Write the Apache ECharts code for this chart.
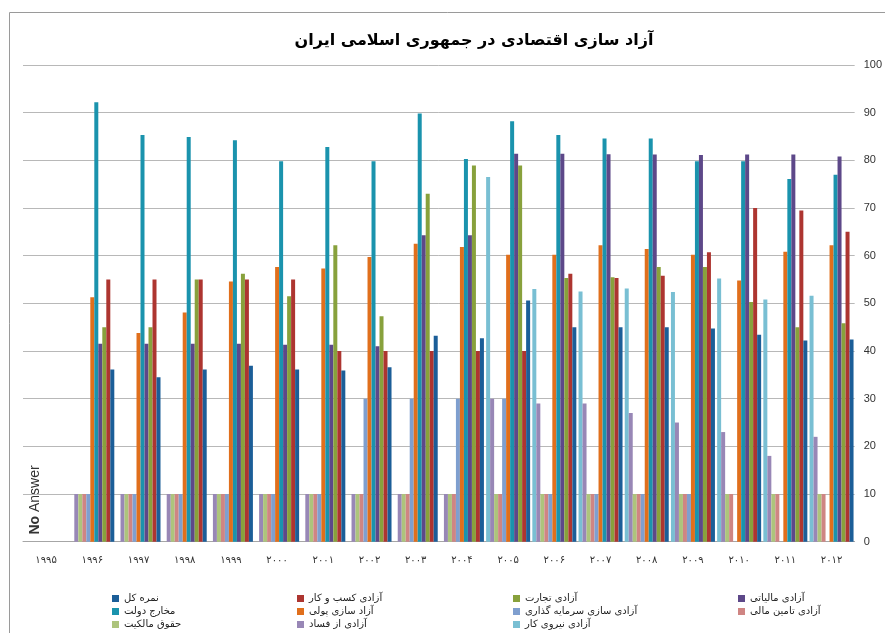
<!DOCTYPE html>
<html>
<head>
<meta charset="utf-8">
<script src="https://cdn.jsdelivr.net/npm/echarts@6/dist/echarts.min.js"></script>
<style>
  html, body { margin: 0; padding: 0; background: #fff; }
  #chart { width: 885px; height: 633px; }
</style>
</head>
<body>
<div id="chart"></div>
<script>
const years = ['۱۹۹۵', '۱۹۹۶', '۱۹۹۷', '۱۹۹۸', '۱۹۹۹', '۲۰۰۰', '۲۰۰۱', '۲۰۰۲', '۲۰۰۳',
  '۲۰۰۴', '۲۰۰۵', '۲۰۰۶', '۲۰۰۷', '۲۰۰۸', '۲۰۰۹', '۲۰۱۰', '۲۰۱۱', '۲۰۱۲'];

// one array per index, 1995 .. 2012 (null = no bar)
const overall = [null, 36.1, 34.5, 36.1, 36.9, 36.1, 35.9, 36.6, 43.2, 42.7, 50.6, 45.0, 45.0, 45.0, 44.7, 43.4, 42.2, 42.4];
const business = [null, 55, 55, 55, 55, 55, 40, 40, 40, 40, 40, 56.2, 55.3, 55.8, 60.7, 70.0, 69.5, 65.0];
const trade = [null, 45, 45, 55, 56.2, 51.5, 62.2, 47.3, 73.0, 78.9, 78.9, 55.3, 55.5, 57.6, 57.6, 50.3, 45.0, 45.8];
const fiscal = [null, 41.5, 41.5, 41.5, 41.5, 41.3, 41.3, 41.0, 64.3, 64.3, 81.4, 81.4, 81.3, 81.2, 81.1, 81.2, 81.2, 80.8];
const government = [null, 92.2, 85.3, 84.9, 84.2, 79.8, 82.8, 79.8, 89.8, 80.3, 88.2, 85.3, 84.6, 84.6, 79.8, 79.8, 76.1, 77.0];
const monetary = [null, 51.3, 43.8, 48.1, 54.6, 57.6, 57.3, 59.7, 62.5, 61.8, 60.2, 60.2, 62.2, 61.4, 60.2, 54.8, 60.8, 62.2];
const investment = [null, 10, 10, 10, 10, 10, 10, 30, 30, 30, 30, 10, 10, 10, 10, null, null, null];
const financial = [null, 10, 10, 10, 10, 10, 10, 10, 10, 10, 10, 10, 10, 10, 10, 10, 10, 10];
const property = [null, 10, 10, 10, 10, 10, 10, 10, 10, 10, 10, 10, 10, 10, 10, 10, 10, 10];
const corruption = [null, 10, 10, 10, 10, 10, 10, 10, 10, 10, 30, 29, 29, 27, 25, 23, 18, 22];
const labor = [null, null, null, null, null, null, null, null, null, null, 76.5, 53.0, 52.5, 53.1, 52.4, 55.2, 50.8, 51.6];

const yTicks = [0, 10, 20, 30, 40, 50, 60, 70, 80, 90, 100];

// legend order (series drawn right to left inside a group)
const seriesList = [
  { name: 'نمره کل', data: overall, color: '#1b5e98' },
  { name: 'آزادی کسب و کار', data: business, color: '#ad3530' },
  { name: 'آزادی تجارت', data: trade, color: '#88a13c' },
  { name: 'آزادی مالیاتی', data: fiscal, color: '#5d4889' },
  { name: 'مخارج دولت', data: government, color: '#1a93ad' },
  { name: 'آزاد سازی پولی', data: monetary, color: '#e06f1c' },
  { name: 'آزادی سازی سرمایه گذاری', data: investment, color: '#7f9fcf' },
  { name: 'آزادی تامین مالی', data: financial, color: '#cf8583' },
  { name: 'حقوق مالکیت', data: property, color: '#adc47c' },
  { name: 'آزادی از فساد', data: corruption, color: '#9887b6' },
  { name: 'آزادی نیروی کار', data: labor, color: '#79bfd3' }
];

const legendCols = [
  { x: 112, names: ['نمره کل', 'مخارج دولت', 'حقوق مالکیت'] },
  { x: 297, names: ['آزادی کسب و کار', 'آزاد سازی پولی', 'آزادی از فساد'] },
  { x: 513, names: ['آزادی تجارت', 'آزادی سازی سرمایه گذاری', 'آزادی نیروی کار'] },
  { x: 738, names: ['آزادی مالیاتی', 'آزادی تامین مالی'] }
];

const persianFont = '"DejaVu Sans", sans-serif';

const chart = echarts.init(document.getElementById('chart'), null, { renderer: 'canvas' });

chart.setOption({
  backgroundColor: '#fff',
  animation: false,
  title: {
    text: 'آزاد سازی اقتصادی در جمهوری اسلامی ایران',
    left: 469,
    top: 28,
    textAlign: 'center',
    textStyle: { fontFamily: persianFont, fontSize: 16, fontWeight: 'bold', color: '#000' }
  },
  legend: legendCols.map(col => ({
    orient: 'vertical',
    left: col.x,
    top: 593,
    padding: 0,
    itemWidth: 7,
    itemHeight: 7,
    itemGap: 2,
    icon: 'rect',
    data: col.names,
    textStyle: { fontFamily: persianFont, fontSize: 10, lineHeight: 11, color: '#222' }
  })),
  grid: { left: 23, right: 30, top: 65, bottom: 91.3 },
  xAxis: {
    type: 'category',
    data: years,
    axisLine: { lineStyle: { color: '#a6a6a6' } },
    axisTick: { show: false },
    axisLabel: { fontFamily: persianFont, fontSize: 10, color: '#333', margin: 14 }
  },
  yAxis: {
    type: 'value',
    position: 'right',
    min: yTicks[0],
    max: yTicks[yTicks.length - 1],
    interval: 10,
    axisLine: { show: false },
    axisTick: { show: false },
    axisLabel: { fontFamily: '"Liberation Sans", Arial, sans-serif', fontSize: 11, color: '#333', margin: 9 },
    splitLine: { lineStyle: { color: '#b8b8b8', width: 1 } }
  },
  series: seriesList.slice().reverse().map(s => ({
    name: s.name,
    type: 'bar',
    data: s.data,
    barWidth: 4,
    barGap: '0%',
    itemStyle: { color: s.color }
  })),
  graphic: [
    {
      type: 'rect',
      shape: { x: 9.5, y: 12.5, width: 900, height: 700 },
      style: { fill: 'none', stroke: '#9a9a9a', lineWidth: 1 },
      silent: true
    },
    {
      type: 'text',
      x: 35,
      y: 500,
      rotation: Math.PI / 2,
      style: {
        text: '{b|No} Answer',
        fontFamily: '"Liberation Sans", Arial, sans-serif',
        fontSize: 14,
        fill: '#333',
        align: 'center',
        verticalAlign: 'middle',
        rich: { b: { fontWeight: 'bold', fontSize: 14, fill: '#333' } }
      }
    }
  ]
});
</script>
</body>
</html>
